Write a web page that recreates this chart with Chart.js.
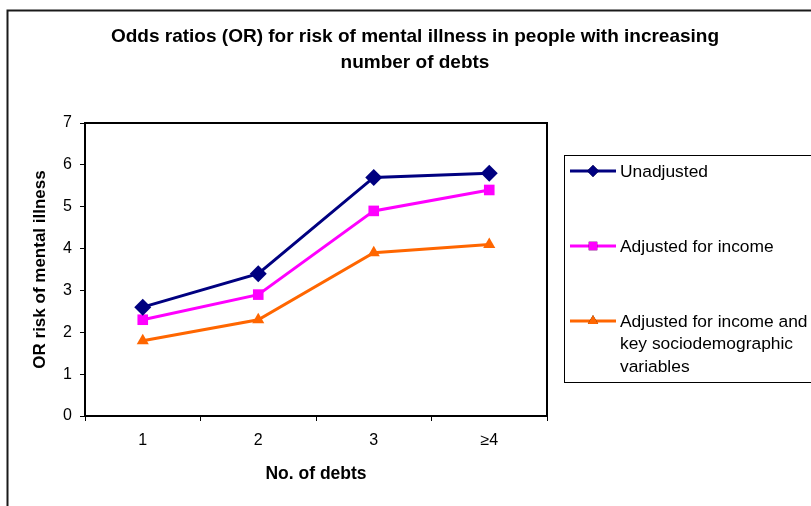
<!DOCTYPE html>
<html>
<head>
<meta charset="utf-8">
<script src="https://cdn.jsdelivr.net/npm/chart.js@4"></script>
<style>
  html, body { margin: 0; padding: 0; background: #fff; }
  #wrap { width: 811px; height: 506px; }
</style>
</head>
<body>
<div id="wrap"><canvas id="c" width="811" height="506"></canvas></div>
<script>
// Chart data
const categories = ['1', '2', '3', '\u22654'];
const unadjusted = [2.6, 3.4, 5.7, 5.8];
const adjustedIncome = [2.3, 2.9, 4.9, 5.4];
const adjustedIncomeSocio = [1.8, 2.3, 3.9, 4.1];
const yTickMin = 0;
const yTickMax = 7;
const yTickStep = 1;

const seriesNames = [
  'Unadjusted',
  'Adjusted for income',
  'Adjusted for income and key sociodemographic variables'
];
// legend text broken into lines
const legendLines = [
  ['Unadjusted'],
  ['Adjusted for income'],
  ['Adjusted for income and', 'key sociodemographic', 'variables']
];
const titleLines = [
  'Odds ratios (OR) for risk of mental illness in people with increasing',
  'number of debts'
];
const xTitle = 'No. of debts';
const yTitle = 'OR risk of mental illness';

const FONT = '"Liberation Sans", Arial, sans-serif';

// frame, title, plot outline and legend box
const decorations = {
  id: 'decorations',
  beforeDraw(chart) {
    const ctx = chart.ctx;
    ctx.save();
    ctx.fillStyle = '#fff';
    ctx.fillRect(0, 0, chart.width, chart.height);
    ctx.strokeStyle = '#1a1a1a';
    ctx.lineWidth = 2;
    ctx.strokeRect(7.5, 10.5, chart.width + 20, chart.height + 20);
    ctx.restore();
  },
  beforeDatasetsDraw(chart) {
    const ctx = chart.ctx;
    const a = chart.chartArea;
    ctx.save();
    ctx.strokeStyle = '#000';
    ctx.lineWidth = 2;
    ctx.beginPath();
    ctx.moveTo(a.left, a.top);
    ctx.lineTo(a.right, a.top);
    ctx.lineTo(a.right, a.bottom);
    ctx.stroke();
    ctx.restore();
  },
  afterDraw(chart) {
    const ctx = chart.ctx;
    ctx.save();
    // title
    ctx.fillStyle = '#000';
    ctx.font = 'bold 19px ' + FONT;
    ctx.textAlign = 'center';
    ctx.textBaseline = 'alphabetic';
    titleLines.forEach((t, i) => ctx.fillText(t, 415, 42 + i * 26));

    // legend
    const bx = 564.5, by = 155.5;
    ctx.strokeStyle = '#000';
    ctx.lineWidth = 1;
    ctx.strokeRect(bx, by, 300, 227);
    ctx.font = '17.4px ' + FONT;
    ctx.textAlign = 'left';
    ctx.textBaseline = 'middle';
    chart.data.datasets.forEach((ds, i) => {
      const cy = 171 + i * 75;
      ctx.strokeStyle = ds.borderColor;
      ctx.lineWidth = 3;
      ctx.beginPath();
      ctx.moveTo(570, cy);
      ctx.lineTo(616, cy);
      ctx.stroke();
      Chart.helpers.drawPoint(ctx, {
        pointStyle: ds.pointStyle,
        radius: ds.legendPointRadius,
        borderWidth: 0,
        rotation: 0
      }, 593, cy);
      ctx.fillStyle = ds.borderColor;
      ctx.fill();
      ctx.fillStyle = '#000';
      legendLines[i].forEach((ln, j) => ctx.fillText(ln, 620, cy + 1 + j * 22.5));
    });
    ctx.restore();
  }
};

function makeSet(label, data, color, style, radius, legendRadius) {
  return {
    label: label,
    data: data,
    borderColor: color,
    backgroundColor: color,
    borderWidth: 3,
    pointStyle: style,
    pointRadius: radius,
    pointHoverRadius: radius,
    pointBorderWidth: 0,
    pointBackgroundColor: color,
    legendPointRadius: legendRadius,
    tension: 0,
    clip: false
  };
}

new Chart(document.getElementById('c'), {
  type: 'line',
  data: {
    labels: categories,
    datasets: [
      makeSet(seriesNames[0], unadjusted, '#000080', 'rectRot', 8.5, 6),
      makeSet(seriesNames[1], adjustedIncome, '#FF00FF', 'rect', 7.5, 6),
      makeSet(seriesNames[2], adjustedIncomeSocio, '#FF6600', 'triangle', 7, 6)
    ]
  },
  options: {
    responsive: false,
    animation: false,
    events: [],
    layout: { padding: { left: 7, top: 123, right: 264, bottom: 0 } },
    plugins: {
      legend: { display: false },
      title: { display: false },
      tooltip: { enabled: false }
    },
    scales: {
      x: {
        type: 'category',
        offset: true,
        grid: {
          display: true,
          offset: true,
          drawOnChartArea: false,
          drawTicks: true,
          tickLength: 5,
          color: '#000',
          lineWidth: 1
        },
        border: { display: true, color: '#000', width: 2 },
        ticks: {
          color: '#000',
          padding: 10,
          maxRotation: 0,
          font: { family: FONT, size: 16 }
        },
        title: {
          display: true,
          text: xTitle,
          color: '#000',
          font: { family: FONT, size: 17.5, weight: 'bold' },
          padding: { top: 0, bottom: 21 }
        },
        afterFit(scale) { scale.height = 90; }
      },
      y: {
        min: yTickMin,
        max: yTickMax,
        grid: {
          display: true,
          drawOnChartArea: false,
          drawTicks: true,
          tickLength: 5,
          color: '#000',
          lineWidth: 1
        },
        border: { display: true, color: '#000', width: 2 },
        ticks: {
          stepSize: yTickStep,
          color: '#000',
          padding: 8,
          font: { family: FONT, size: 16 }
        },
        title: {
          display: true,
          text: yTitle,
          color: '#000',
          font: { family: FONT, size: 17, weight: 'bold' },
          padding: { top: 23, bottom: 0 }
        },
        afterFit(scale) { scale.width = 78; }
      }
    }
  },
  plugins: [decorations]
});
</script>
</body>
</html>
